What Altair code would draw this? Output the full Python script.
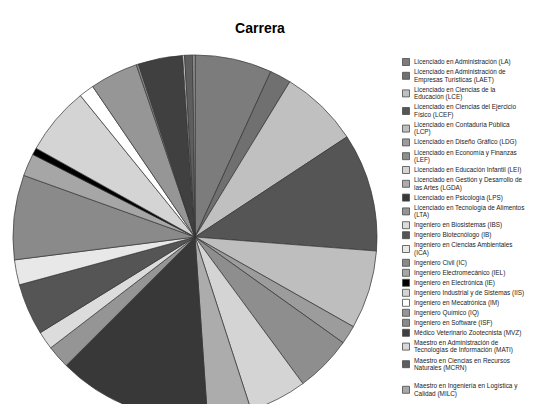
import altair as alt
import pandas as pd

title_text = ["Carrera"]

labels = [
    "Licenciado en Administración (LA)",
    "Licenciado en Administración de|Empresas Turísticas (LAET)",
    "Licenciado en Ciencias de la|Educación (LCE)",
    "Licenciado en Ciencias del Ejercicio|Físico (LCEF)",
    "Licenciado en Contaduría Pública|(LCP)",
    "Licenciado en Diseño Gráfico (LDG)",
    "Licenciado en Economía y Finanzas|(LEF)",
    "Licenciado en Educación Infantil (LEI)",
    "Licenciado en Gestión y Desarrollo de|las Artes (LGDA)",
    "Licenciado en Psicología (LPS)",
    "Licenciado en Tecnología de Alimentos|(LTA)",
    "Ingeniero en Biosistemas (IBS)",
    "Ingeniero Biotecnólogo (IB)",
    "Ingeniero en Ciencias Ambientales|(ICA)",
    "Ingeniero Civil (IC)",
    "Ingeniero Electromecánico (IEL)",
    "Ingeniero en Electrónica (IE)",
    "Ingeniero Industrial y de Sistemas (IIS)",
    "Ingeniero en Mecatrónica (IM)",
    "Ingeniero Químico (IQ)",
    "Ingeniero en Software (ISF)",
    "Médico Veterinario Zootecnista (MVZ)",
    "Maestro en Administración de|Tecnologías de Información (MATI)",
    "Maestro en Ciencias en Recursos|Naturales (MCRN)",
    "Maestro en Ingeniería en Logística y|Calidad (MILC)",
]

values = [24.6, 6.8, 25.2, 37.8, 25.1, 6.0, 18.1, 18.4, 14.0, 49.0, 7.4, 5.8,
          16.5, 8.0, 27.0, 7.2, 2.2, 21.8, 4.8, 15.4, 0.7, 14.2, 0.6, 2.6, 0.7]

colors = ["#7c7c7c", "#707070", "#c0c0c0", "#555555", "#bebebe", "#9c9c9c",
          "#8e8e8e", "#d4d4d4", "#acacac", "#383838", "#959595", "#dcdcdc",
          "#555555", "#e8e8e8", "#8a8a8a", "#a6a6a6", "#000000", "#d4d4d4",
          "#ffffff", "#969696", "#8a8a8a", "#404040", "#d8d8d8", "#5e5e5e",
          "#a8a8a8"]

df = pd.DataFrame({"label": labels, "value": values, "idx": list(range(len(labels)))})

# ---- legend layout (view pixel positions, computed from line counts) ----
H1, H2, LINE = 10.0, 17.6, 7.4
extra_gap = {24: 8.0}
centers = []
c = 54.0
for i, lab in enumerate(labels):
    h = H1 if "|" not in lab else H2
    if i > 0:
        hp = H1 if "|" not in labels[i - 1] else H2
        c += (hp + h) / 2 + extra_gap.get(i, 0.0)
    centers.append(c)

leg_rows = pd.DataFrame({"label": labels, "yc": centers})
line_text, line_y = [], []
for lab, yc in zip(labels, centers):
    parts = lab.split("|")
    n = len(parts)
    for k, p in enumerate(parts):
        line_text.append(p)
        line_y.append(yc + (k - (n - 1) / 2) * LINE)
leg_lines = pd.DataFrame({"t": line_text, "y": line_y})

color_scale = alt.Scale(domain=labels, range=colors)

pie = alt.Chart(df).mark_arc(radius=182, stroke="#333333", strokeWidth=0.7).encode(
    theta=alt.Theta("value:Q", stack=True),
    order=alt.Order("idx:Q", sort="ascending"),
    color=alt.Color("label:N", sort=labels, scale=color_scale, legend=None),
    x=alt.value(187),
    y=alt.value(229),
)

leg_sym = alt.Chart(leg_rows).mark_square(
    size=49, stroke="#4a4a4a", strokeWidth=0.8, opacity=1
).encode(
    x=alt.value(398),
    y=alt.Y("yc:Q", scale=None, axis=None),
    color=alt.Color("label:N", sort=labels, scale=color_scale, legend=None),
)

leg_txt = alt.Chart(leg_lines).mark_text(
    font="Liberation Sans", fontSize=6.4, color="#222222",
    align="left", baseline="middle",
).encode(
    x=alt.value(406),
    y=alt.Y("y:Q", scale=None, axis=None),
    text="t:N",
)

title = alt.Chart(pd.DataFrame({"t": title_text})).mark_text(
    font="Liberation Sans", fontSize=14, fontWeight="bold", color="#000000",
    align="center", baseline="alphabetic",
).encode(text="t:N", x=alt.value(252), y=alt.value(25))

chart = alt.layer(pie, leg_sym, leg_txt, title).properties(
    width=518, height=396,
    autosize=alt.AutoSizeParams(type="none"),
    padding=0,
).configure_view(stroke=None)

chart.save("out.html", embed_options={"renderer": "svg", "actions": False})
